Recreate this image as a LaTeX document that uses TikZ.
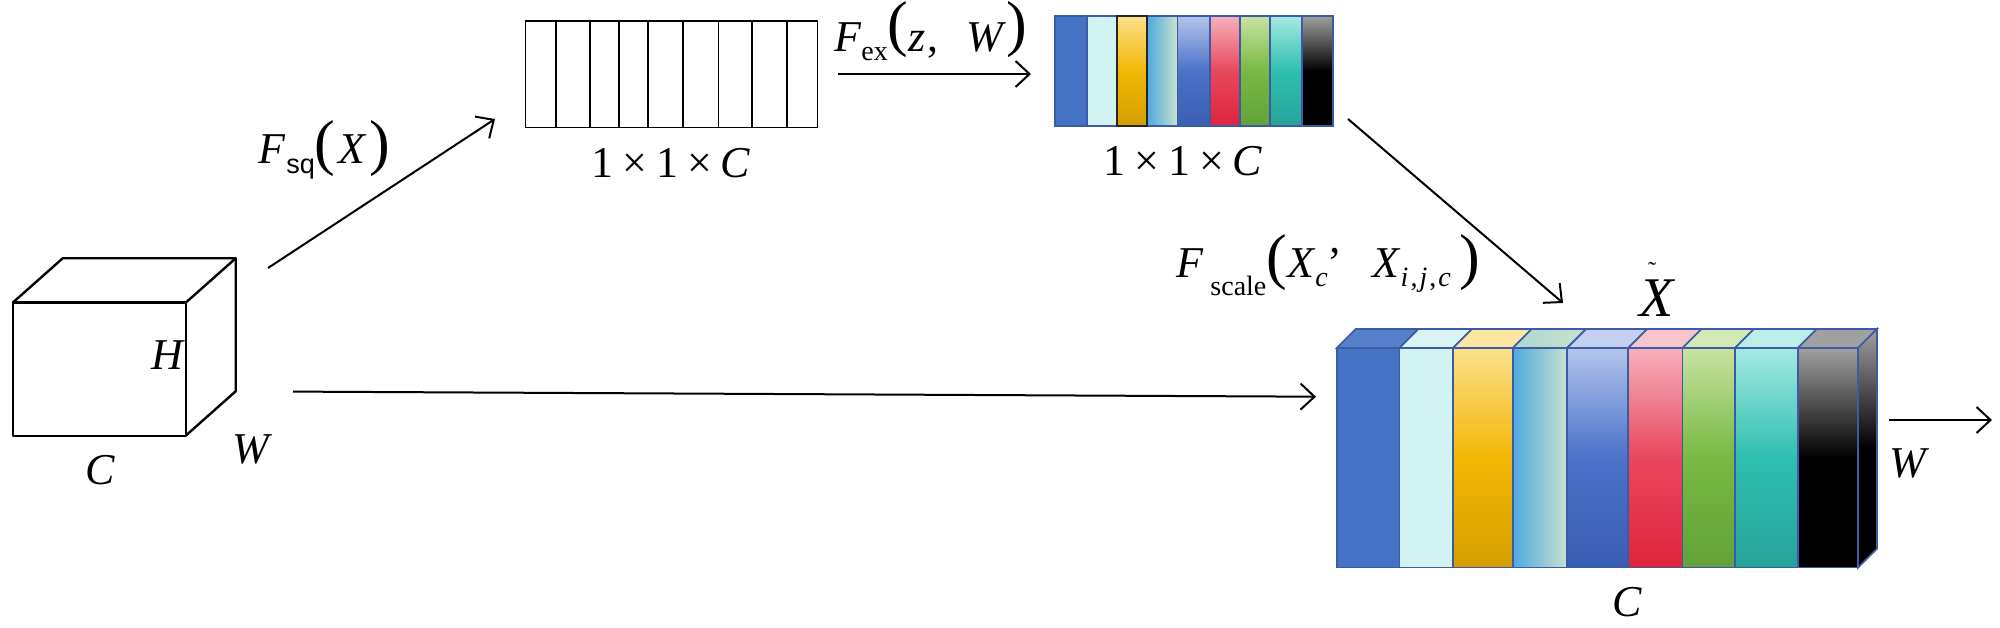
\documentclass[tikz,border=0pt]{standalone}
\usepackage{fontspec}
\setmainfont{Liberation Serif}
\newfontfamily\sqfont{Liberation Sans}
\usetikzlibrary{arrows.meta}
\definecolor{sb}{HTML}{3B5BA5}
\definecolor{cblue}{HTML}{4472C4}
\definecolor{ccyan}{HTML}{D3F2F2}
\definecolor{gold1}{HTML}{FCE08C}
\definecolor{gold2}{HTML}{F2B705}
\definecolor{gold3}{HTML}{D49F00}
\definecolor{sky1}{HTML}{4EA9DE}
\definecolor{sky2}{HTML}{C7E2CE}
\definecolor{bl1}{HTML}{B4C4EC}
\definecolor{bl2}{HTML}{4A72C8}
\definecolor{bl3}{HTML}{3A5EB2}
\definecolor{rd1}{HTML}{F6B1BC}
\definecolor{rd2}{HTML}{E8475D}
\definecolor{rd3}{HTML}{E0243E}
\definecolor{gr1}{HTML}{C9E2A2}
\definecolor{gr2}{HTML}{77B942}
\definecolor{gr3}{HTML}{62A23A}
\definecolor{tl1}{HTML}{A6E9E2}
\definecolor{tl2}{HTML}{2EBFB0}
\definecolor{tl3}{HTML}{27A39A}
\definecolor{bk1}{HTML}{A0A0A0}
\tikzset{
  cube/.style={line width=2.4pt, line join=round},
  wstrip/.style={draw=black, line width=1.8pt},
  cstrip/.style={draw=sb, line width=1.6pt},
  arr/.style={line width=2pt, -{Straight Barb[length=14pt,width=26pt,line width=2pt]}},
  lbl/.style={inner sep=0pt, font=\fontsize{44}{48}\selectfont},
  g1/.style={fill=cblue},
  g2/.style={fill=ccyan},
  g3/.style={top color=gold1, bottom color=gold3, middle color=gold2},
  g4/.style={left color=sky1, right color=sky2},
  g5/.style={top color=bl1, bottom color=bl3, middle color=bl2},
  g6/.style={top color=rd1, bottom color=rd3, middle color=rd2},
  g7/.style={top color=gr1, bottom color=gr3, middle color=gr2},
  g8/.style={top color=tl1, bottom color=tl3, middle color=tl2},
  g9/.style={top color=bk1, bottom color=black, middle color=black},
  t1/.style={fill=cblue!90!white},
  t2/.style={fill=ccyan!85!white},
  t3/.style={fill=gold1!80!white},
  t4/.style={left color=sky2!80!sky1, right color=sky2},
  t5/.style={fill=bl1!80!white},
  t6/.style={fill=rd1!75!white},
  t7/.style={fill=gr1!80!white},
  t8/.style={fill=tl1!75!white},
  t9/.style={fill=bk1},
}
\newcommand{\bigp}[1]{{\fontsize{62}{62}\selectfont #1}}
\newcommand{\sbs}{\fontsize{28}{28}\selectfont}
\begin{document}
\begin{tikzpicture}[x=1pt,y=-1pt]
\useasboundingbox[fill=white] (0,0) rectangle (2000,628);

% ---------- input cube ----------
\draw[cube] (12.7,302.7) rectangle (185.7,435.7);
\draw[cube] (12.7,302.7) -- (62.7,258.3) -- (235.7,258.3) -- (185.7,302.7);
\draw[cube] (235.7,258.3) -- (235.7,391.3) -- (185.7,435.7);
\node[lbl] (lh) at (168,355) {\textit{H}};
\node[lbl] (lw) at (252,449) {\textit{W}};
\node[lbl] (lc) at (100,470) {\textit{C}};

% ---------- squeeze vector ----------
\foreach \a/\b in {525.5/555.9, 555.9/589.8, 589.8/618.6, 618.6/648.1, 648.1/683.2, 683.2/718.5, 718.5/752.1, 752.1/787.1, 787.1/817.5}
  \draw[wstrip] (\a,21) rectangle (\b,127.5);
\node[lbl, anchor=base] (l11a) at (671,178) {1\hspace{9pt}×\hspace{9pt}1\hspace{9pt}×\hspace{9pt}\textit{C}};

% ---------- excitation vector ----------
\path[cstrip, g1] (1055,16) rectangle (1086.7,126);
\path[cstrip, g2] (1086.7,16) rectangle (1117.3,126);
\path[cstrip, g4] (1147.3,16) rectangle (1177.3,126);
\path[cstrip, g5] (1177.3,16) rectangle (1210,126);
\path[cstrip, g6] (1210,16) rectangle (1240,126);
\path[cstrip, g7] (1240,16) rectangle (1270,126);
\path[cstrip, g8] (1270,16) rectangle (1301.7,126);
\path[cstrip, g9] (1301.7,16) rectangle (1333,126);
\path[g3, draw=black!85, line width=1.8pt] (1117.3,16) rectangle (1147.3,126);
\node[lbl, anchor=base] (l11b) at (1183,176) {1\hspace{9pt}×\hspace{9pt}1\hspace{9pt}×\hspace{9pt}\textit{C}};

% ---------- output block ----------
\path[cstrip, t1] (1336.7,348) -- (1355.7,329) -- (1418.5,329) -- (1399.5,348) -- cycle;
\path[cstrip, t2] (1399.5,348) -- (1418.5,329) -- (1472,329) -- (1453,348) -- cycle;
\path[cstrip, t3] (1453,348) -- (1472,329) -- (1531.8,329) -- (1512.8,348) -- cycle;
\path[cstrip, t4] (1512.8,348) -- (1531.8,329) -- (1586.1,329) -- (1567.1,348) -- cycle;
\path[cstrip, t5] (1567.1,348) -- (1586.1,329) -- (1647.2,329) -- (1628.2,348) -- cycle;
\path[cstrip, t6] (1628.2,348) -- (1647.2,329) -- (1701.4,329) -- (1682.4,348) -- cycle;
\path[cstrip, t7] (1682.4,348) -- (1701.4,329) -- (1753.9,329) -- (1734.9,348) -- cycle;
\path[cstrip, t8] (1734.9,348) -- (1753.9,329) -- (1816.7,329) -- (1797.7,348) -- cycle;
\path[cstrip, t9] (1797.7,348) -- (1816.7,329) -- (1877,329) -- (1858,348) -- cycle;
\path[cstrip, top color=bk1, bottom color=black, middle color=black] (1858,348) -- (1877,329) -- (1877,548.6) -- (1858,567.6) -- cycle;
\path[cstrip, g1] (1336.7,348) rectangle (1399.5,567.6);
\path[cstrip, g2] (1399.5,348) rectangle (1453,567.6);
\path[cstrip, g3] (1453,348) rectangle (1512.8,567.6);
\path[cstrip, g4] (1512.8,348) rectangle (1567.1,567.6);
\path[cstrip, g5] (1567.1,348) rectangle (1628.2,567.6);
\path[cstrip, g6] (1628.2,348) rectangle (1682.4,567.6);
\path[cstrip, g7] (1682.4,348) rectangle (1734.9,567.6);
\path[cstrip, g8] (1734.9,348) rectangle (1797.7,567.6);
\path[cstrip, g9] (1797.7,348) rectangle (1858,567.6);
\node[lbl, anchor=base, font=\fontsize{56}{56}\selectfont] (lxt) at (1657,317)
  {\rlap{\hspace{9pt}\raisebox{39pt}{\fontsize{24}{24}\selectfont ˜}}\textit{X}};
\node[lbl] (lw2) at (1909,463) {\textit{W}};
\node[lbl] (lc2) at (1627,602) {\textit{C}};

% ---------- operation labels ----------
\node[lbl, anchor=base west] (fsq) at (258,164)
  {\textit{F}\hspace{1pt}\raisebox{-10pt}{\sqfont\fontsize{27}{27}\selectfont sq}\bigp{(}\hspace{3pt}\textit{X}\hspace{3pt}\bigp{)}};
\node[lbl, anchor=base west] (fex) at (834,52)
  {\textit{F}\raisebox{-9pt}{\sbs ex}\raisebox{7pt}{\bigp{(}}\textit{z}\hspace{2pt},\hspace{28pt}\textit{W}\raisebox{7pt}{\bigp{)}}};
\node[lbl, anchor=base west] (fsc) at (1176,278)
  {\textit{F}\hspace{7pt}\raisebox{-18pt}{\sbs scale}\bigp{(}\textit{X}\raisebox{-9pt}{\sbs\textit{c}}’\hspace{30pt}\textit{X}\raisebox{-9pt}{\sbs\textit{i}\hspace{2pt},\hspace{2pt}\textit{j}\hspace{2pt},\hspace{2pt}\textit{c}}\hspace{9pt}\bigp{)}};

% ---------- connectors ----------
\coordinate (sqs) at (268,268);
\coordinate (sqe) at (495,119);
\coordinate (exs) at (838,74);
\coordinate (exe) at (1031,74);
\coordinate (scs) at (1348,119);
\coordinate (sce) at (1563,303);
\coordinate (ids) at (293,391.6);
\coordinate (ide) at (1316,396.7);
\coordinate (ous) at (1889,420);
\coordinate (oue) at (1992,420);
\draw[arr] (sqs) -- (sqe);
\draw[arr] (exs) -- (exe);
\draw[arr] (scs) -- (sce);
\draw[arr] (ids) -- (ide);
\draw[arr] (ous) -- (oue);
\end{tikzpicture}
\end{document}
